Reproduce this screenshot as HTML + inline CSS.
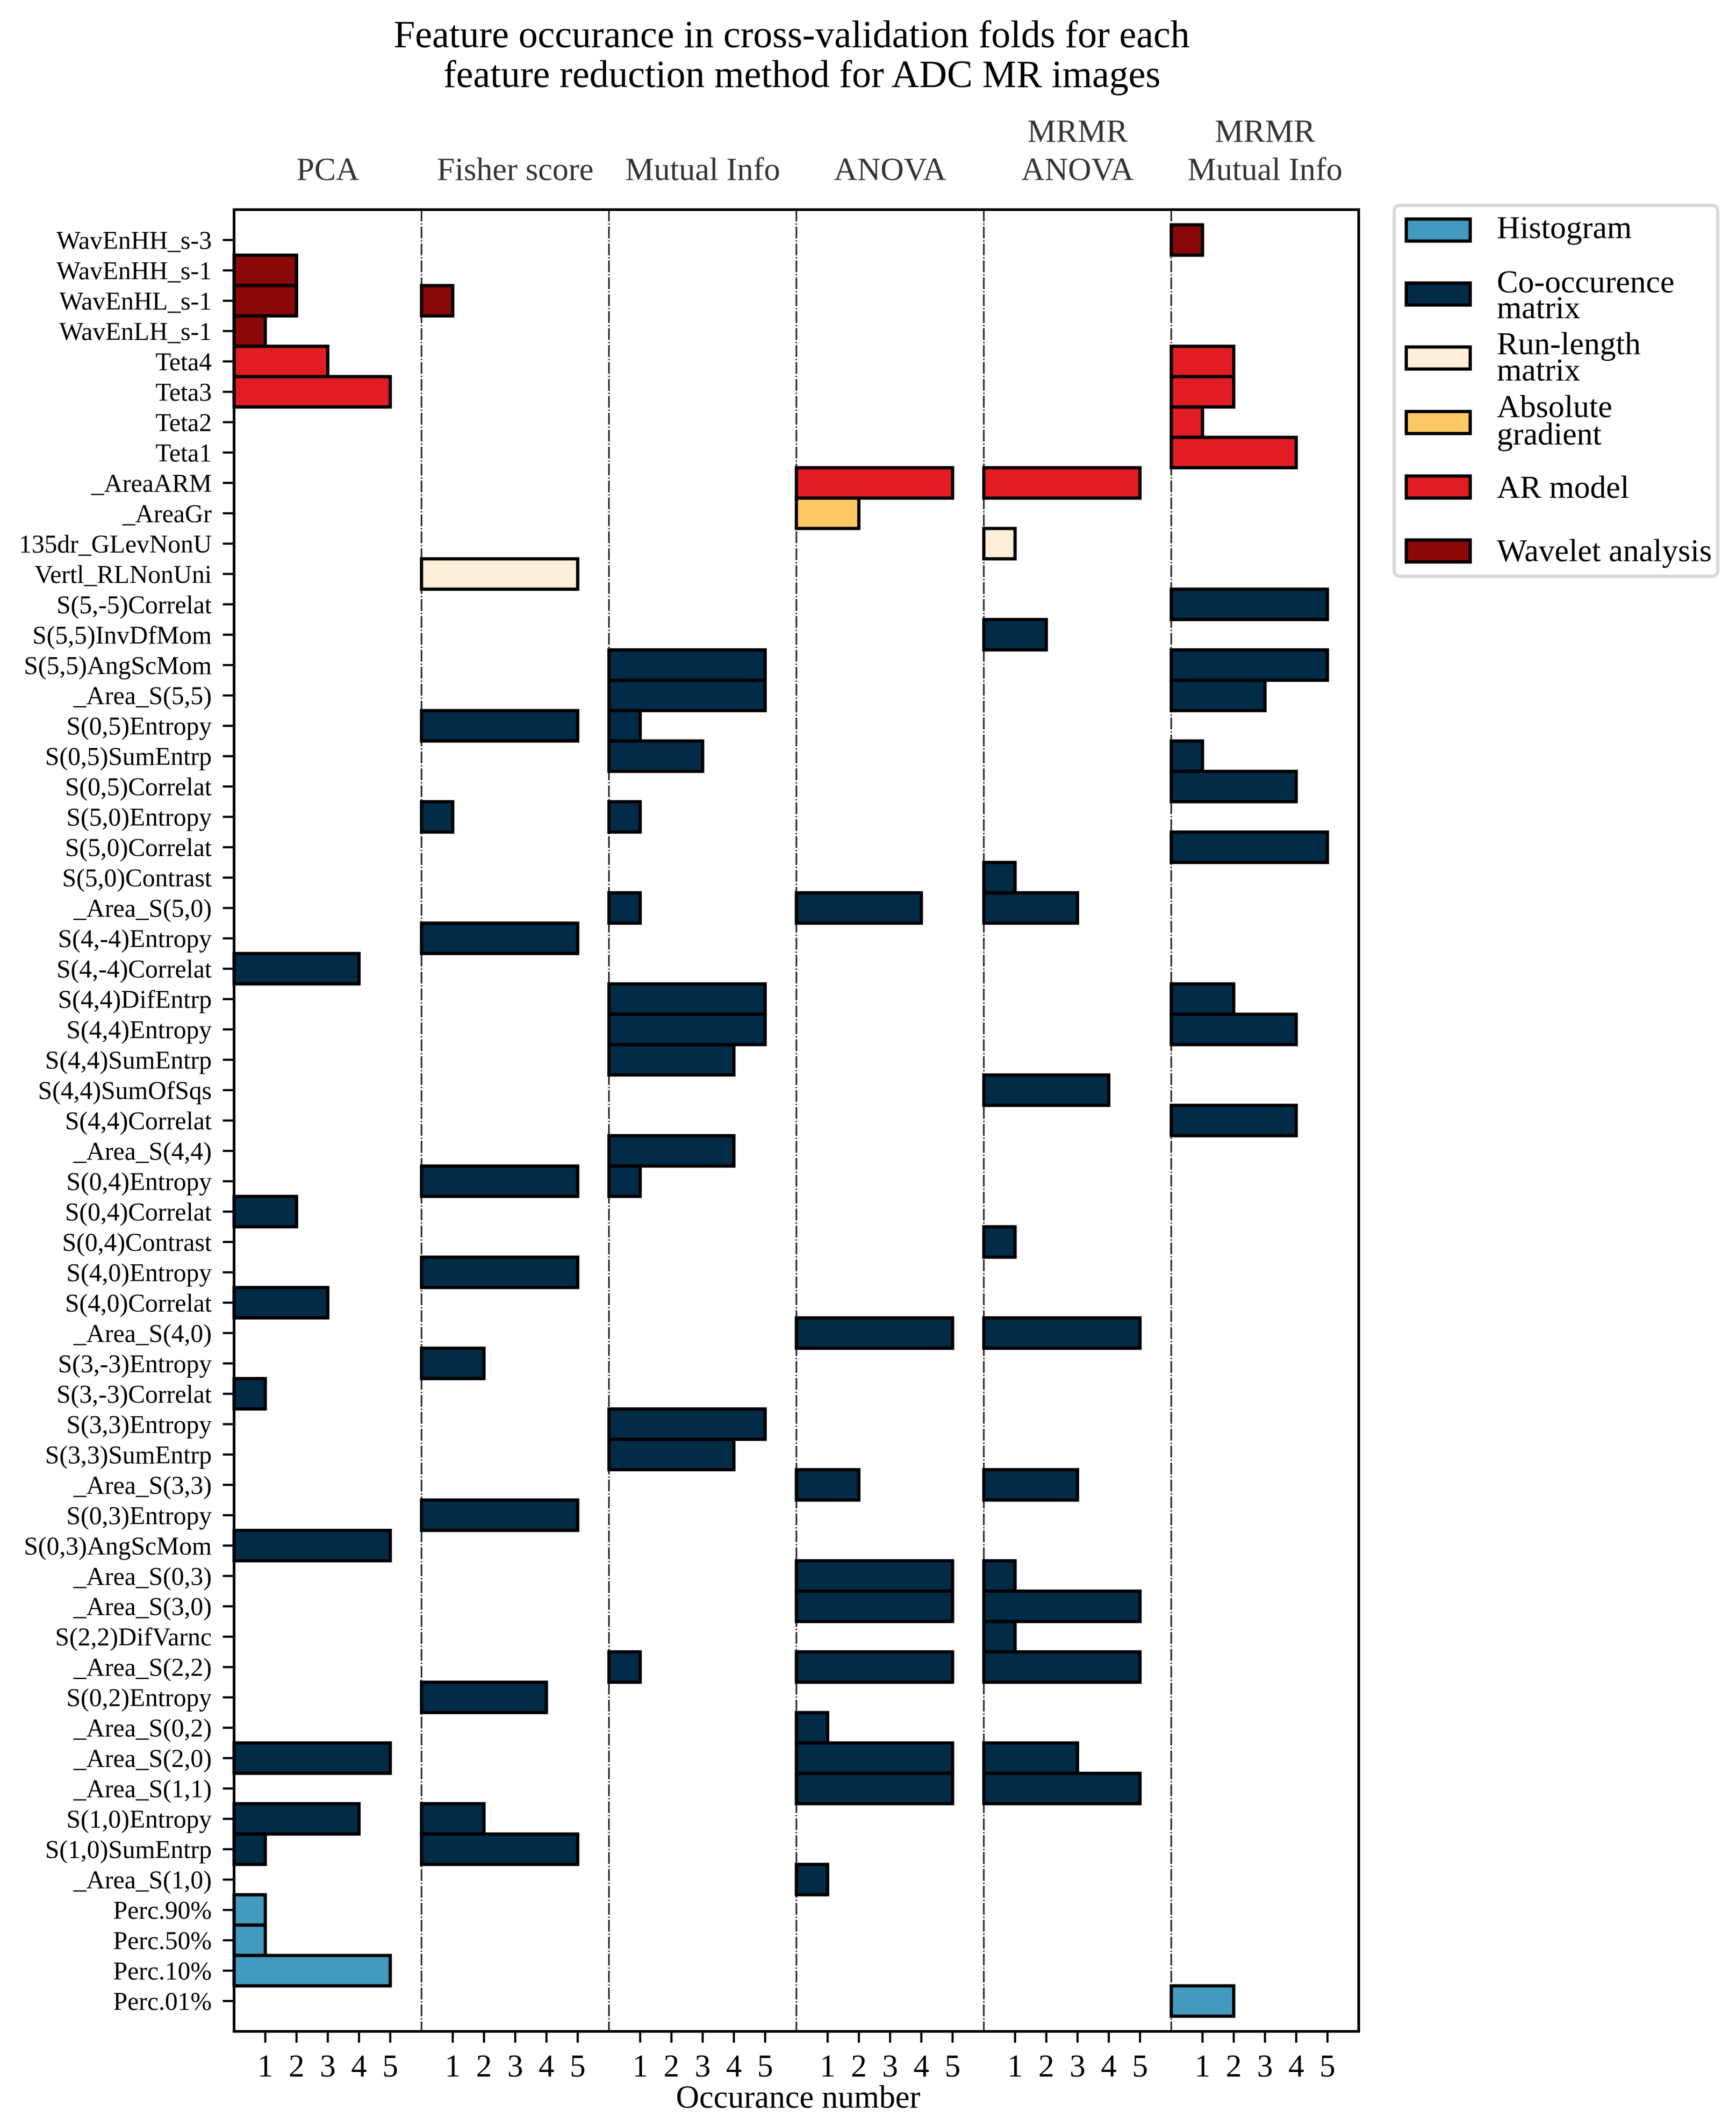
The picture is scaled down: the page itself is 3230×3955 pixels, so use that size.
<!DOCTYPE html>
<html lang="en">
<head>
<meta charset="utf-8">
<title>Feature occurance chart</title>
<style>
html,body{margin:0;padding:0;background:#fff;width:3230px;height:3955px;overflow:hidden}
svg{display:block;font-family:"Liberation Serif",serif;filter:blur(0.9px)}
</style>
</head>
<body>
<svg id="chart" xmlns="http://www.w3.org/2000/svg" width="3230" height="3955" viewBox="0 0 3230 3955">
  <rect width="3230" height="3955" fill="#ffffff"/>
  <g font-size="71.5" fill="#000" text-anchor="middle">
    <text x="1473" y="88">Feature occurance in cross-validation folds for each</text>
    <text x="1492" y="162">feature reduction method for ADC MR images</text>
  </g>
  <g id="bars"></g>
  <g id="axes"></g>
  <text x="1485" y="3921" font-size="60" fill="#000" text-anchor="middle">Occurance number</text>
  <g>
    <rect x="2594" y="382" width="602" height="690" rx="10" fill="#fff" stroke="#d8d8d8" stroke-width="6"/>
    <rect x="2616.5" y="407.5" width="119" height="41" fill="#429bbf" stroke="#000" stroke-width="6"/>
    <text x="2785" y="443" font-size="59.5" fill="#000">Histogram</text>
    <rect x="2616.5" y="526.5" width="119" height="41" fill="#022b47" stroke="#000" stroke-width="6"/>
    <text font-size="59.5" fill="#000"><tspan x="2785" y="544">Co-occurence</tspan><tspan x="2785" y="592">matrix</tspan></text>
    <rect x="2616.5" y="645.5" width="119" height="41" fill="#ffefd8" stroke="#000" stroke-width="6"/>
    <text font-size="59.5" fill="#000"><tspan x="2785" y="659">Run-length</tspan><tspan x="2785" y="708">matrix</tspan></text>
    <rect x="2616.5" y="765.5" width="119" height="41" fill="#fec965" stroke="#000" stroke-width="6"/>
    <text font-size="59.5" fill="#000"><tspan x="2785" y="776">Absolute</tspan><tspan x="2785" y="827">gradient</tspan></text>
    <rect x="2616.5" y="885.5" width="119" height="41" fill="#e11c23" stroke="#000" stroke-width="6"/>
    <text x="2785" y="926" font-size="59.5" fill="#000">AR model</text>
    <rect x="2616.5" y="1004.5" width="119" height="41" fill="#8b0708" stroke="#000" stroke-width="6"/>
    <text x="2785" y="1044" font-size="59.5" fill="#000">Wavelet analysis</text>
  </g>
</svg>
<script>
const features = ["WavEnHH_s-3","WavEnHH_s-1","WavEnHL_s-1","WavEnLH_s-1","Teta4","Teta3","Teta2","Teta1","_AreaARM","_AreaGr",
"135dr_GLevNonU","Vertl_RLNonUni","S(5,-5)Correlat","S(5,5)InvDfMom","S(5,5)AngScMom","_Area_S(5,5)","S(0,5)Entropy","S(0,5)SumEntrp","S(0,5)Correlat","S(5,0)Entropy",
"S(5,0)Correlat","S(5,0)Contrast","_Area_S(5,0)","S(4,-4)Entropy","S(4,-4)Correlat","S(4,4)DifEntrp","S(4,4)Entropy","S(4,4)SumEntrp","S(4,4)SumOfSqs","S(4,4)Correlat",
"_Area_S(4,4)","S(0,4)Entropy","S(0,4)Correlat","S(0,4)Contrast","S(4,0)Entropy","S(4,0)Correlat","_Area_S(4,0)","S(3,-3)Entropy","S(3,-3)Correlat","S(3,3)Entropy",
"S(3,3)SumEntrp","_Area_S(3,3)","S(0,3)Entropy","S(0,3)AngScMom","_Area_S(0,3)","_Area_S(3,0)","S(2,2)DifVarnc","_Area_S(2,2)","S(0,2)Entropy","_Area_S(0,2)",
"_Area_S(2,0)","_Area_S(1,1)","S(1,0)Entropy","S(1,0)SumEntrp","_Area_S(1,0)","Perc.90%","Perc.50%","Perc.10%","Perc.01%"];

const featureGroups = ["wav","wav","wav","wav","ar","ar","ar","ar","ar","abs",
"run","run","coo","coo","coo","coo","coo","coo","coo","coo",
"coo","coo","coo","coo","coo","coo","coo","coo","coo","coo",
"coo","coo","coo","coo","coo","coo","coo","coo","coo","coo",
"coo","coo","coo","coo","coo","coo","coo","coo","coo","coo",
"coo","coo","coo","coo","coo","his","his","his","his"];

const pcaValues = [0,2,2,1,3,5,0,0,0,0, 0,0,0,0,0,0,0,0,0,0, 0,0,0,0,4,0,0,0,0,0, 0,0,2,0,0,3,0,0,1,0, 0,0,0,5,0,0,0,0,0,0, 5,0,4,1,0,1,1,5,0];
const fisherValues = [0,0,1,0,0,0,0,0,0,0, 0,5,0,0,0,0,5,0,0,1, 0,0,0,5,0,0,0,0,0,0, 0,5,0,0,5,0,0,2,0,0, 0,0,5,0,0,0,0,0,4,0, 0,0,2,5,0,0,0,0,0];
const mutualInfoValues = [0,0,0,0,0,0,0,0,0,0, 0,0,0,0,5,5,1,3,0,1, 0,0,1,0,0,5,5,4,0,0, 4,1,0,0,0,0,0,0,0,5, 4,0,0,0,0,0,0,1,0,0, 0,0,0,0,0,0,0,0,0];
const anovaValues = [0,0,0,0,0,0,0,0,5,2, 0,0,0,0,0,0,0,0,0,0, 0,0,4,0,0,0,0,0,0,0, 0,0,0,0,0,0,5,0,0,0, 0,2,0,0,5,5,0,5,0,1, 5,5,0,0,1,0,0,0,0];
const mrmrAnovaValues = [0,0,0,0,0,0,0,0,5,0, 1,0,0,2,0,0,0,0,0,0, 0,1,3,0,0,0,0,0,4,0, 0,0,0,1,0,0,5,0,0,0, 0,3,0,0,1,5,1,5,0,0, 3,5,0,0,0,0,0,0,0];
const mrmrMutualInfoValues = [1,0,0,0,2,2,1,4,0,0, 0,0,5,0,5,3,0,1,4,0, 5,0,0,0,0,2,4,0,0,4, 0,0,0,0,0,0,0,0,0,0, 0,0,0,0,0,0,0,0,0,0, 0,0,0,0,0,0,0,0,2];

const xTickValues = [1,2,3,4,5];
const panelSeries = [pcaValues,fisherValues,mutualInfoValues,anovaValues,mrmrAnovaValues,mrmrMutualInfoValues];
const panelKeys = ["pca","fisher-score","mutual-info","anova","mrmr-anova","mrmr-mutual-info"];
const panelTitles = [["PCA"],["Fisher score"],["Mutual Info"],["ANOVA"],["MRMR","ANOVA"],["MRMR","Mutual Info"]];

const groupFill = {his:"#429bbf",coo:"#022b47",run:"#ffefd8",abs:"#fec965",ar:"#e11c23",wav:"#8b0708"};

const NS = "http://www.w3.org/2000/svg";
const axL = 435.5, axR = 2528, axT = 390, axB = 3779;
const panelW = (axR-axL)/panelSeries.length;
const unitX = panelW/6;
const unitY = (axB-axT)/(features.length+1);
function panelLeft(p){return axL+p*panelW;}
function xOf(p,v){return panelLeft(p)+v*unitX;}
function yOf(i){return axT+(i+1)*unitY;}
function make(tag,attrs,parent,txt){
  const el=document.createElementNS(NS,tag);
  for(const k in attrs){el.setAttribute(k,attrs[k]);}
  if(txt!==undefined){el.textContent=txt;}
  parent.appendChild(el);
  return el;
}
const barsG=document.getElementById("bars");
const axesG=document.getElementById("axes");

// separators (beneath bars)
for(let p=1;p<panelSeries.length;p++){
  const sep=make("line",{x1:panelLeft(p),x2:panelLeft(p),y1:axT,y2:axB,stroke:"#222","stroke-width":3,"stroke-dasharray":"22 3.5 2.5 3.5"},barsG);
  
  
}
// bars
panelSeries.forEach((vals,p)=>{
  vals.forEach((v,i)=>{
    if(!v){return;}
    const bar=make("rect",{x:xOf(p,0),y:yOf(i)-unitY/2,width:xOf(p,v)-xOf(p,0),height:unitY,fill:groupFill[featureGroups[i]],stroke:"#000","stroke-width":6},barsG);
    
    
  });
});
// spines
const frame=make("rect",{x:axL,y:axT,width:axR-axL,height:axB-axT,fill:"none",stroke:"#000","stroke-width":5},axesG);


// y ticks + labels
features.forEach((name,i)=>{
  const t=make("line",{x1:axL-21,x2:axL,y1:yOf(i),y2:yOf(i),stroke:"#000","stroke-width":4},axesG);
  
  
  const lab=make("text",{x:394,y:yOf(i)+16.5,"font-size":47.5,"text-anchor":"end",fill:"#000"},axesG,name);
  
  
});
// x ticks + labels + panel titles
panelSeries.forEach((vals,p)=>{
  xTickValues.forEach(v=>{
    const t=make("line",{x1:xOf(p,v),x2:xOf(p,v),y1:axB,y2:axB+21,stroke:"#000","stroke-width":4},axesG);
    
    
    const lab=make("text",{x:xOf(p,v),y:3863,"font-size":59,"text-anchor":"middle",fill:"#000"},axesG,String(v));
    
    
  });
  const lines=panelTitles[p];
  lines.forEach((ln,k)=>{
    const base=335-(lines.length-1-k)*71;
    const h=make("text",{x:panelLeft(p)+panelW/2,y:base,"font-size":60,"text-anchor":"middle",fill:"#333"},axesG,ln);
    
    
  });
});
</script>
</body>
</html>
